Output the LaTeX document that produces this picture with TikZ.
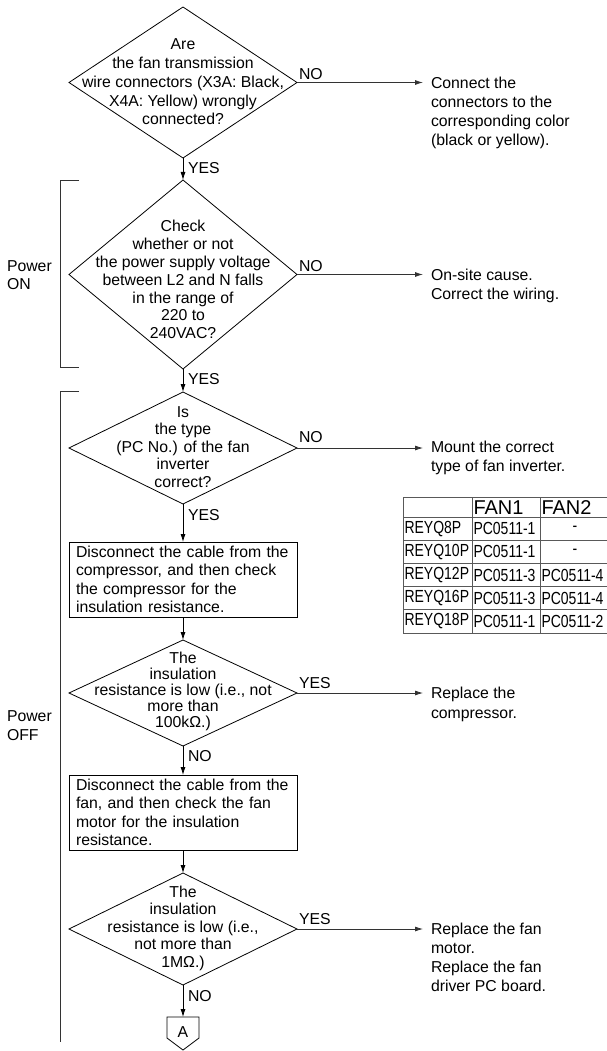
\documentclass[tikz,border=0pt]{standalone}
\usepackage{fontspec}
\setmainfont{Liberation Sans}
\newfontfamily\narrowfont[FakeStretch=0.8]{Liberation Sans}
\usetikzlibrary{shapes.geometric,arrows.meta,calc}
\begin{document}
\begin{tikzpicture}[x=1pt,y=-1pt,
  every node/.style={inner sep=0pt, outer sep=0pt},
  dia/.style={draw, diamond, minimum width=228pt, line width=0.8pt},
  box/.style={draw, rectangle, minimum width=228pt, minimum height=75pt, text width=214pt, align=left, inner xsep=7pt, line width=0.8pt, font=\fontsize{15.8}{18.4}\selectfont},
  txt/.style={font=\fontsize{15.8}{18.7}\selectfont},
  rtxt/.style={font=\fontsize{15.8}{19}\selectfont, align=left, anchor=north west},
  flow/.style={line width=0.8pt, -{Latex[length=8pt,width=5pt]}},
  hflow/.style={line width=0.8pt, black!80, -{Latex[length=8pt,width=5pt]}},
  lab/.style={font=\fontsize{15.8}{18}\selectfont},
  brk/.style={line width=0.8pt, black!80},
  tab/.style={line width=0.8pt, black!65},
  cell/.style={font=\narrowfont\fontsize{17.5}{18}\selectfont, anchor=west},
  head/.style={font=\fontsize{20}{20}\selectfont, anchor=west}
]
\useasboundingbox (0,0) rectangle (607,1051);

% diamonds
\node[dia, minimum height=151pt] (d1) at (183,82.5) {};
\node[txt, align=center] (t1) at (183,82) {Are\\the fan transmission\\wire connectors (X3A: Black,\\X4A: Yellow) wrongly\\connected?};

\node[dia, minimum height=189pt] (d2) at (183,274.5) {};
\node[txt, align=center, font=\fontsize{15.8}{17.9}\selectfont] (t2) at (183,279.5) {Check\\whether or not\\the power supply voltage\\between L2 and N falls\\in the range of\\220 to\\240VAC?};

\node[dia, minimum height=112pt] (d3) at (183,448) {};
\node[txt, align=center, font=\fontsize{15.8}{17.5}\selectfont] (t3) at (183,447) {Is\\the type\\(PC No.) of the fan\\inverter\\correct?};

\node[box] (b1) at (183,579.5) {Disconnect the cable from the\\compressor, and then check\\the compressor for the\\insulation resistance.};

\node[dia, minimum height=106pt] (d4) at (183,693) {};
\node[txt, align=center, font=\fontsize{15.8}{16}\selectfont] (t4) at (183,691) {The\\insulation\\resistance is low (i.e., not\\more than\\100kΩ.)};

\node[box] (b2) at (183,812.5) {Disconnect the cable from the\\fan, and then check the fan\\motor for the insulation\\resistance.};

\node[dia, minimum height=112pt] (d5) at (183,929) {};
\node[txt, align=center, font=\fontsize{15.8}{17.5}\selectfont] (t5) at (183,928) {The\\insulation\\resistance is low (i.e.,\\not more than\\1MΩ.)};

% connector A
\node[txt] (A) at (183,1032) {A};
\draw[line width=0.8pt] ($(A)+(-16,-15)$) -- ($(A)+(16,-15)$) -- ($(A)+(16,6)$) -- ($(A)+(0,18)$) -- ($(A)+(-16,6)$) -- cycle;
\coordinate (Atop) at ($(A)+(0,-15)$);

% vertical flow
\draw[flow] (d1.south) -- (d2.north);
\draw[flow] (d2.south) -- (d3.north);
\draw[flow] (d3.south) -- (b1.north);
\draw[flow] (b1.south) -- (d4.north);
\draw[flow] (d4.south) -- (b2.north);
\draw[flow] (b2.south) -- (d5.north);
\draw[flow] (d5.south) -- (Atop);

\node[lab, anchor=north west] (y1) at ($(d1.south)+(5,4)$) {YES};
\node[lab, anchor=north west] (y2) at ($(d2.south)+(5,4)$) {YES};
\node[lab, anchor=north west] (y3) at ($(d3.south)+(5,5)$) {YES};
\node[lab, anchor=north west] (n4) at ($(d4.south)+(5,4)$) {NO};
\node[lab, anchor=north west] (n5) at ($(d5.south)+(5,5)$) {NO};

% horizontal flow
\coordinate (e1) at (423,82.5);
\coordinate (e2) at (423,274.5);
\coordinate (e3) at (423,448);
\coordinate (e4) at (423,693);
\coordinate (e5) at (423,929);
\draw[hflow] (d1.east) -- (e1);
\draw[hflow] (d2.east) -- (e2);
\draw[hflow] (d3.east) -- (e3);
\draw[hflow] (d4.east) -- (e4);
\draw[hflow] (d5.east) -- (e5);

\node[lab, anchor=south west] (h1) at ($(d1.east)+(2,-3)$) {NO};
\node[lab, anchor=south west] (h2) at ($(d2.east)+(2,-3)$) {NO};
\node[lab, anchor=south west] (h3) at ($(d3.east)+(2,-5)$) {NO};
\node[lab, anchor=south west] (h4) at ($(d4.east)+(2,-4)$) {YES};
\node[lab, anchor=south west] (h5) at ($(d5.east)+(2,-4)$) {YES};

\node[rtxt] (r1) at ($(e1)+(8,-5.7)$) {Connect the\\connectors to the\\corresponding color\\(black or yellow).};
\node[rtxt] (r2) at ($(e2)+(8,-5.7)$) {On-site cause.\\Correct the wiring.};
\node[rtxt] (r3) at ($(e3)+(8,-6.7)$) {Mount the correct\\type of fan inverter.};
\node[rtxt, font=\fontsize{15.8}{20}\selectfont] (r4) at ($(e4)+(8,-5.7)$) {Replace the\\compressor.};
\node[rtxt, font=\fontsize{15.8}{18.8}\selectfont] (r5) at ($(e5)+(8,-5.7)$) {Replace the fan\\motor.\\Replace the fan\\driver PC board.};

% brackets
\draw[brk] (79,180) -- (60,180) -- (60,367) -- (79,367);
\draw[brk] (79,391) -- (60,391) -- (60,1042);
\node[txt, align=left, anchor=west, font=\fontsize{15.8}{18}\selectfont] (pon) at (7,275) {Power\\ON};
\node[txt, align=left, anchor=west, font=\fontsize{15.8}{19}\selectfont] (poff) at (7,725.5) {Power\\OFF};

% table
\foreach \yy in {497,517,540.2,563.4,586.6,609.8,633}
  \draw[tab] (403,\yy) -- (607,\yy);
\foreach \xx in {403,472,540}
  \draw[tab] (\xx,497) -- (\xx,633);
\node[head] (hf1) at (473.5,508) {FAN1};
\node[head] (hf2) at (541.5,508) {FAN2};
\node[cell] (c11) at (404.5,528.6) {REYQ8P};
\node[cell] (c12) at (473.5,528.6) {PC0511-1};
\node[cell, anchor=center] (c13) at (575,528.6) {-};
\node[cell] (c21) at (404.5,551.8) {REYQ10P};
\node[cell] (c22) at (473.5,551.8) {PC0511-1};
\node[cell, anchor=center] (c23) at (575,551.8) {-};
\node[cell] (c31) at (404.5,575) {REYQ12P};
\node[cell] (c32) at (473.5,575) {PC0511-3};
\node[cell] (c33) at (541.5,575) {PC0511-4};
\node[cell] (c41) at (404.5,598.2) {REYQ16P};
\node[cell] (c42) at (473.5,598.2) {PC0511-3};
\node[cell] (c43) at (541.5,598.2) {PC0511-4};
\node[cell] (c51) at (404.5,621.4) {REYQ18P};
\node[cell] (c52) at (473.5,621.4) {PC0511-1};
\node[cell] (c53) at (541.5,621.4) {PC0511-2};
\end{tikzpicture}
\end{document}
